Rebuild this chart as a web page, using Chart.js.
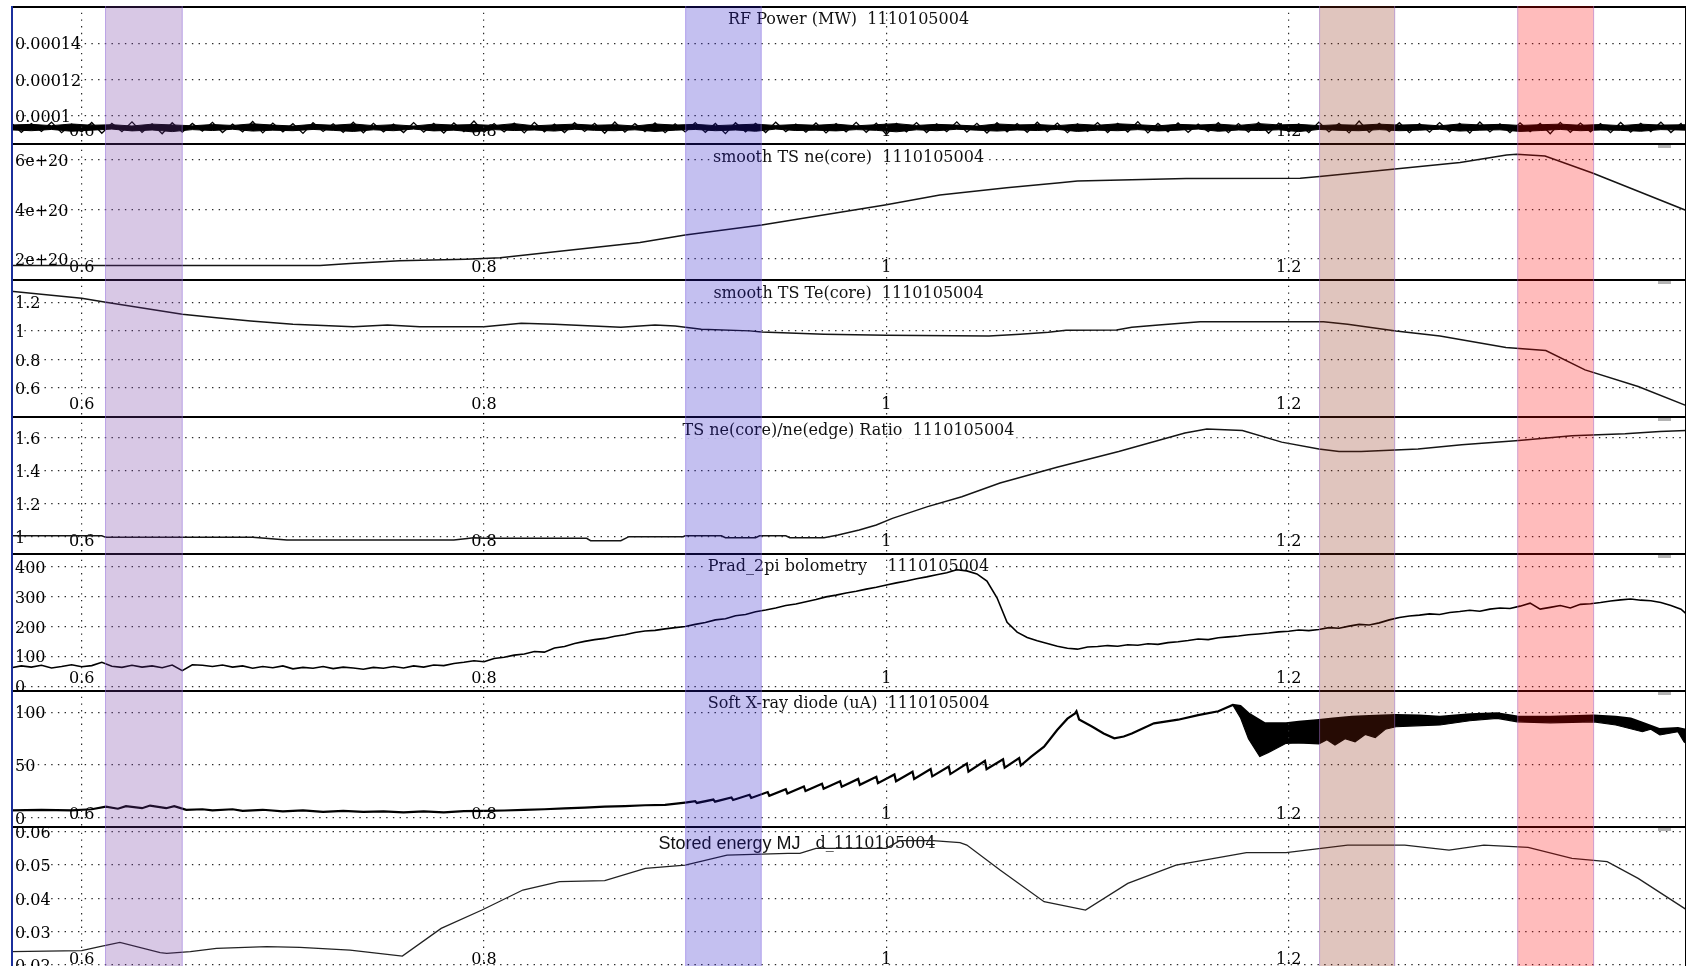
<!DOCTYPE html>
<html>
<head>
<meta charset="utf-8">
<title>Shot 1110105004</title>
<script src="https://cdn.jsdelivr.net/npm/chart.js@4.4.0/dist/chart.umd.min.js"></script>
<style>
  html, body { margin: 0; padding: 0; background: #fff; overflow: hidden; width: 1690px; height: 966px; }
  #stack { position: relative; width: 1690px; height: 966px; }
  #stack canvas { position: absolute; left: 11px; }
</style>
</head>
<body>
<div id="stack">
  <canvas id="rf" width="1675" height="137" style="top:6px"></canvas>
  <canvas id="ne" width="1675" height="136" style="top:143px"></canvas>
  <canvas id="te" width="1675" height="137" style="top:279px"></canvas>
  <canvas id="ratio" width="1675" height="137" style="top:416px"></canvas>
  <canvas id="prad" width="1675" height="137" style="top:553px"></canvas>
  <canvas id="sxr" width="1675" height="136" style="top:690px"></canvas>
  <canvas id="we" width="1675" height="145" style="top:826px"></canvas>
</div>
<script>
// time axis (s) and its labels
const xTicks = [0.6, 0.8, 1, 1.2];
const xTickLabels = ['0.6', '0.8', '1', '1.2'];

// highlighted time windows
const bandFrom = [0.6116, 0.9, 1.2151, 1.3136];
const bandTo = [0.6502, 0.938, 1.2529, 1.3518];

// shared fine time base (s)
const tFine = [0.565, 0.570, 0.575, 0.580, 0.585, 0.590, 0.595, 0.600, 0.605, 0.610,
  0.615, 0.620, 0.625, 0.630, 0.635, 0.640, 0.645, 0.650, 0.655, 0.660,
  0.665, 0.670, 0.675, 0.680, 0.685, 0.690, 0.695, 0.700, 0.705, 0.710,
  0.715, 0.720, 0.725, 0.730, 0.735, 0.740, 0.745, 0.750, 0.755, 0.760,
  0.765, 0.770, 0.775, 0.780, 0.785, 0.790, 0.795, 0.800, 0.805, 0.810,
  0.815, 0.820, 0.825, 0.830, 0.835, 0.840, 0.845, 0.850, 0.855, 0.860,
  0.865, 0.870, 0.875, 0.880, 0.885, 0.890, 0.895, 0.900, 0.905, 0.910,
  0.915, 0.920, 0.925, 0.930, 0.935, 0.940, 0.945, 0.950, 0.955, 0.960,
  0.965, 0.970, 0.975, 0.980, 0.985, 0.990, 0.995, 1.000, 1.005, 1.010,
  1.015, 1.020, 1.025, 1.030, 1.035, 1.040, 1.045, 1.050, 1.055, 1.060,
  1.065, 1.070, 1.075, 1.080, 1.085, 1.090, 1.095, 1.100, 1.105, 1.110,
  1.115, 1.120, 1.125, 1.130, 1.135, 1.140, 1.145, 1.150, 1.155, 1.160,
  1.165, 1.170, 1.175, 1.180, 1.185, 1.190, 1.195, 1.200, 1.205, 1.210,
  1.215, 1.220, 1.225, 1.230, 1.235, 1.240, 1.245, 1.250, 1.255, 1.260,
  1.265, 1.270, 1.275, 1.280, 1.285, 1.290, 1.295, 1.300, 1.305, 1.310,
  1.315, 1.320, 1.325, 1.330, 1.335, 1.340, 1.345, 1.350, 1.355, 1.360,
  1.365, 1.370, 1.375, 1.380, 1.385, 1.390, 1.395, 1.398];

// RF power (MW): solid core edges and the noisy trace over it
const rfT = [0.564, 0.575, 0.585, 0.595, 0.605, 0.615, 0.625, 0.635, 0.645, 0.655,
  0.665, 0.675, 0.685, 0.695, 0.705, 0.715, 0.725, 0.735, 0.745, 0.755,
  0.765, 0.775, 0.785, 0.795, 0.805, 0.815, 0.825, 0.835, 0.845, 0.855,
  0.865, 0.875, 0.885, 0.895, 0.905, 0.915, 0.925, 0.935, 0.945, 0.955,
  0.965, 0.975, 0.985, 0.995, 1.005, 1.015, 1.025, 1.035, 1.045, 1.055,
  1.065, 1.075, 1.085, 1.095, 1.105, 1.115, 1.125, 1.135, 1.145, 1.155,
  1.165, 1.175, 1.185, 1.195, 1.205, 1.215, 1.225, 1.235, 1.245, 1.255,
  1.265, 1.275, 1.285, 1.295, 1.305, 1.315, 1.325, 1.335, 1.345, 1.355,
  1.365, 1.375, 1.385, 1.398];
const rfHigh = [9.50e-5, 9.54e-5, 9.47e-5, 9.56e-5, 9.49e-5, 9.52e-5, 9.45e-5, 9.55e-5, 9.51e-5, 9.46e-5,
  9.53e-5, 9.48e-5, 9.57e-5, 9.50e-5, 9.45e-5, 9.54e-5, 9.49e-5, 9.56e-5, 9.47e-5, 9.52e-5,
  9.45e-5, 9.55e-5, 9.50e-5, 9.53e-5, 9.48e-5, 9.58e-5, 9.46e-5, 9.51e-5, 9.55e-5, 9.49e-5,
  9.52e-5, 9.45e-5, 9.56e-5, 9.50e-5, 9.54e-5, 9.47e-5, 9.51e-5, 9.55e-5, 9.48e-5, 9.53e-5,
  9.49e-5, 9.55e-5, 9.46e-5, 9.52e-5, 9.58e-5, 9.48e-5, 9.54e-5, 9.50e-5, 9.45e-5, 9.56e-5,
  9.51e-5, 9.53e-5, 9.47e-5, 9.55e-5, 9.49e-5, 9.57e-5, 9.52e-5, 9.46e-5, 9.54e-5, 9.50e-5,
  9.55e-5, 9.48e-5, 9.58e-5, 9.51e-5, 9.54e-5, 9.47e-5, 9.52e-5, 9.49e-5, 9.55e-5, 9.50e-5,
  9.53e-5, 9.46e-5, 9.56e-5, 9.51e-5, 9.54e-5, 9.48e-5, 9.52e-5, 9.55e-5, 9.49e-5, 9.53e-5,
  9.47e-5, 9.55e-5, 9.50e-5, 9.52e-5];
const rfLow = [9.24e-5, 9.19e-5, 9.26e-5, 9.16e-5, 9.22e-5, 9.28e-5, 9.18e-5, 9.23e-5, 9.14e-5, 9.25e-5,
  9.20e-5, 9.27e-5, 9.17e-5, 9.22e-5, 9.19e-5, 9.26e-5, 9.21e-5, 9.15e-5, 9.24e-5, 9.19e-5,
  9.28e-5, 9.18e-5, 9.22e-5, 9.12e-5, 9.25e-5, 9.20e-5, 9.23e-5, 9.17e-5, 9.27e-5, 9.21e-5,
  9.19e-5, 9.24e-5, 9.15e-5, 9.22e-5, 9.26e-5, 9.19e-5, 9.23e-5, 9.16e-5, 9.28e-5, 9.20e-5,
  9.22e-5, 9.18e-5, 9.25e-5, 9.21e-5, 9.13e-5, 9.24e-5, 9.19e-5, 9.27e-5, 9.22e-5, 9.17e-5,
  9.23e-5, 9.20e-5, 9.26e-5, 9.15e-5, 9.22e-5, 9.19e-5, 9.25e-5, 9.18e-5, 9.22e-5, 9.28e-5,
  9.16e-5, 9.23e-5, 9.20e-5, 9.24e-5, 9.14e-5, 9.26e-5, 9.21e-5, 9.19e-5, 9.25e-5, 9.19e-5,
  9.22e-5, 9.27e-5, 9.17e-5, 9.22e-5, 9.24e-5, 9.15e-5, 9.20e-5, 9.26e-5, 9.19e-5, 9.23e-5,
  9.21e-5, 9.16e-5, 9.25e-5, 9.22e-5];
const rfNoise = [9.62e-5, 9.10e-5, 9.58e-5, 9.15e-5, 9.66e-5, 9.08e-5, 9.55e-5, 9.12e-5, 9.64e-5, 9.05e-5,
  9.60e-5, 9.14e-5, 9.68e-5, 9.10e-5, 9.57e-5, 9.02e-5, 9.63e-5, 9.11e-5, 9.59e-5, 9.16e-5,
  9.65e-5, 9.09e-5, 9.56e-5, 9.13e-5, 9.70e-5, 9.07e-5, 9.61e-5, 9.12e-5, 9.58e-5, 9.04e-5,
  9.63e-5, 9.15e-5, 9.57e-5, 9.10e-5, 9.66e-5, 9.08e-5, 9.60e-5, 9.13e-5, 9.55e-5, 9.09e-5,
  9.64e-5, 9.11e-5, 9.59e-5, 9.06e-5, 9.62e-5, 9.14e-5, 9.72e-5, 9.10e-5, 9.58e-5, 9.12e-5,
  9.61e-5, 9.07e-5, 9.65e-5, 9.13e-5, 9.56e-5, 9.09e-5, 9.63e-5, 9.15e-5, 9.60e-5, 9.05e-5,
  9.67e-5, 9.11e-5, 9.58e-5, 9.14e-5, 9.62e-5, 9.08e-5, 9.57e-5, 9.12e-5, 9.64e-5, 9.10e-5,
  9.59e-5, 9.03e-5, 9.63e-5, 9.13e-5, 9.60e-5, 9.09e-5, 9.66e-5, 9.14e-5, 9.56e-5, 9.11e-5,
  9.62e-5, 9.07e-5, 9.58e-5, 9.12e-5, 9.65e-5, 9.10e-5, 9.61e-5, 8.98e-5, 9.59e-5, 9.13e-5,
  9.64e-5, 9.09e-5, 9.57e-5, 9.14e-5, 9.68e-5, 9.11e-5, 9.60e-5, 9.06e-5, 9.63e-5, 9.12e-5,
  9.58e-5, 9.10e-5, 9.66e-5, 9.13e-5, 9.61e-5, 9.08e-5, 9.57e-5, 9.15e-5, 9.64e-5, 9.09e-5,
  9.60e-5, 9.12e-5, 9.69e-5, 9.07e-5, 9.59e-5, 9.13e-5, 9.62e-5, 9.10e-5, 9.56e-5, 9.14e-5,
  9.63e-5, 9.08e-5, 9.58e-5, 9.11e-5, 9.65e-5, 9.05e-5, 9.61e-5, 9.13e-5, 9.57e-5, 9.09e-5,
  9.66e-5, 9.12e-5, 9.60e-5, 9.07e-5, 9.72e-5, 9.10e-5, 9.59e-5, 9.14e-5, 9.63e-5, 9.08e-5,
  9.58e-5, 9.11e-5, 9.64e-5, 9.13e-5, 9.60e-5, 9.06e-5, 9.67e-5, 9.12e-5, 9.57e-5, 9.09e-5,
  9.62e-5, 9.14e-5, 9.59e-5, 9.02e-5, 9.65e-5, 9.10e-5, 9.61e-5, 9.13e-5, 9.58e-5, 9.08e-5,
  9.64e-5, 9.11e-5, 9.60e-5, 9.14e-5, 9.66e-5, 9.09e-5, 9.59e-5, 9.12e-5];
const rfTicks = [0.0001, 0.00012, 0.00014];
const rfTickLabels = ['0.0001', '0.00012', '0.00014'];

// smooth TS ne(core), m^-3
const neT = [0.564, 0.69, 0.7185, 0.7334, 0.758, 0.791, 0.808, 0.8775, 0.9, 0.938, 0.9993, 1.0266,
  1.0598, 1.0863, 1.095, 1.149, 1.2057, 1.2154, 1.2528, 1.2852, 1.3083, 1.3133, 1.3274, 1.3513, 1.398];
const neV = [1.72e20, 1.72e20, 1.72e20, 1.81e20, 1.92e20, 1.98e20, 2.04e20, 2.66e20, 2.96e20, 3.37e20, 4.18e20, 4.58e20,
  4.88e20, 5.08e20, 5.15e20, 5.25e20, 5.26e20, 5.33e20, 5.64e20, 5.9e20, 6.2e20, 6.23e20, 6.16e20, 5.46e20, 3.94e20];
const neTicks = [2e20, 4e20, 6e20];
const neTickLabels = ['2e+20', '4e+20', '6e+20'];

// smooth TS Te(core), keV
const teT = [0.564, 0.6, 0.612, 0.65, 0.667, 0.684, 0.705, 0.735, 0.752, 0.768, 0.8, 0.8185, 0.835,
  0.868, 0.885, 0.895, 0.908, 0.932, 0.938, 0.969, 1.0, 1.051, 1.0665, 1.0805, 1.0893, 1.1144,
  1.122, 1.1353, 1.156, 1.2173, 1.2293, 1.2533, 1.2752, 1.308, 1.3278, 1.3473, 1.3737, 1.398];
const teV = [1.279, 1.228, 1.2, 1.116, 1.092, 1.069, 1.046, 1.029, 1.041, 1.029, 1.029, 1.053, 1.046,
  1.025, 1.041, 1.034, 1.011, 1.0, 0.992, 0.976, 0.969, 0.964, 0.976, 0.99, 1.004, 1.006,
  1.025, 1.041, 1.064, 1.064, 1.046, 0.999, 0.964, 0.883, 0.862, 0.727, 0.61, 0.475];
const teTicks = [0.6, 0.8, 1, 1.2];
const teTickLabels = ['0.6', '0.8', '1', '1.2'];

// TS ne(core)/ne(edge)
const ratioT = [0.564, 0.61, 0.612, 0.685, 0.702, 0.785, 0.795, 0.8, 0.851, 0.853, 0.868, 0.872,
  0.899, 0.9, 0.918, 0.92, 0.935, 0.937, 0.95, 0.952, 0.969, 0.976, 0.9865, 0.995, 1.003, 1.0205,
  1.0375, 1.0565, 1.0848, 1.1155, 1.1484, 1.1593, 1.177, 1.1965, 1.215, 1.225, 1.236, 1.2643,
  1.286, 1.3144, 1.3408, 1.3672, 1.3845, 1.398];
const ratioV = [1.006, 1.006, 0.996, 0.996, 0.98, 0.98, 0.994, 0.99, 0.99, 0.976, 0.976, 1.0,
  1.0, 1.006, 1.006, 0.994, 0.994, 1.006, 1.006, 0.994, 0.994, 1.01, 1.041, 1.071, 1.111, 1.182,
  1.242, 1.325, 1.42, 1.515, 1.627, 1.651, 1.642, 1.572, 1.531, 1.515, 1.515, 1.53,
  1.556, 1.582, 1.61, 1.622, 1.636, 1.642];
const ratioTicks = [1, 1.2, 1.4, 1.6];
const ratioTickLabels = ['1', '1.2', '1.4', '1.6'];

// Prad 2pi bolometry, kW (on tFine)
const pradV = [62, 68, 64, 70, 61, 66, 72, 65, 69, 80,
  67, 63, 70, 64, 68, 62, 71, 52, 72, 70,
  66, 71, 64, 68, 60, 66, 62, 68, 58, 63,
  60, 66, 59, 64, 61, 57, 63, 60, 66, 61,
  68, 64, 71, 69, 76, 80, 85, 82, 93, 97,
  104, 108, 116, 114, 128, 133, 143, 150, 156, 160,
  167, 172, 180, 185, 187, 192, 196, 200, 207, 213,
  222, 226, 236, 240, 249, 255, 262, 270, 275, 283,
  290, 299, 305, 312, 318, 325, 331, 339, 346, 352,
  360, 366, 373, 380, 390, 386, 376, 352, 296, 214,
  181, 163, 152, 143, 134, 127, 124, 131, 133, 136,
  134, 139, 137, 142, 140, 146, 149, 153, 158, 156,
  162, 165, 168, 172, 175, 178, 182, 184, 188, 186,
  190, 196, 194, 201, 207, 205, 212, 222, 230, 235,
  238, 242, 240, 247, 250, 254, 251, 258, 262, 260,
  268, 278, 258, 264, 270, 262, 274, 276, 280, 285,
  289, 292, 288, 286, 280, 270, 258, 240];
const pradTicks = [0, 100, 200, 300, 400];
const pradTickLabels = ['0', '100', '200', '300', '400'];

// Soft X-ray diode (uA): main trace, then lower edge of the fuzzy part
const sxrT = [0.564, 0.58, 0.595, 0.605, 0.612, 0.618, 0.622, 0.63, 0.634, 0.642, 0.646, 0.652,
  0.66, 0.665, 0.675, 0.68, 0.69, 0.70, 0.71, 0.72, 0.73, 0.74, 0.75, 0.76, 0.77, 0.78, 0.79,
  0.80, 0.81, 0.82, 0.83, 0.84, 0.85, 0.86, 0.87, 0.88, 0.89, 0.90,
  0.905, 0.9058, 0.914, 0.9148, 0.923, 0.9238, 0.932, 0.9328, 0.941, 0.9418, 0.950, 0.9508,
  0.959, 0.9598, 0.968, 0.9688, 0.977, 0.9778, 0.986, 0.9868, 0.995, 0.9958, 1.004, 1.0048,
  1.013, 1.0138, 1.022, 1.0228, 1.031, 1.0318, 1.040, 1.0408, 1.049, 1.0498, 1.058, 1.0588,
  1.066, 1.0668, 1.072, 1.0784, 1.0849, 1.09, 1.0938, 1.0945, 1.0958, 1.1024, 1.108, 1.1133,
  1.118, 1.122, 1.133, 1.145, 1.155, 1.165, 1.1722, 1.176, 1.18, 1.188, 1.1987, 1.205, 1.215,
  1.222, 1.2314, 1.24, 1.2533, 1.265, 1.2752, 1.29, 1.3036, 1.3136, 1.33, 1.3517, 1.3626, 1.37,
  1.3758, 1.3845, 1.3935, 1.398];
const sxrV = [7, 7.5, 7, 8, 10.5, 8.5, 11, 9, 11.5, 9, 11, 7.5,
  8, 7, 8, 6.5, 7.5, 6, 7, 5.5, 6.5, 5.5, 6, 5, 6, 5, 6.2,
  6.4, 6.8, 7.5, 8, 8.8, 9.5, 10.5, 11, 11.8, 12.1, 14.3,
  15.6, 14.0, 17.2, 15.2, 19.2, 16.8, 21.7, 18.7, 24.3, 20.7, 27, 23,
  29.7, 25.3, 32.2, 27.4, 34.6, 29.4, 36.8, 31.2, 38.8, 32.8, 41, 34.6,
  43.6, 36.8, 46.2, 39.2, 48.6, 41.4, 51.3, 43.7, 54, 46, 55.5, 47.5,
  56.5, 49.5, 58, 67.4, 83.2, 94, 99, 101, 93.3, 86.3, 80, 75.3,
  77, 80, 89.6, 93, 97.4, 101, 107, 106, 99, 89.6, 89.6, 91, 92.7,
  94, 95.8, 96.5, 97.4, 97, 95.8, 98, 99, 96, 95.8, 97, 95.8, 94,
  90, 84, 85, 83];
const sxrLowT = [1.1722, 1.176, 1.18, 1.1856, 1.19, 1.1987, 1.205, 1.215, 1.219, 1.223, 1.228,
  1.233, 1.238, 1.243, 1.248, 1.2533, 1.26, 1.2752, 1.29, 1.3036, 1.3136, 1.33, 1.3517, 1.3626,
  1.3758, 1.38, 1.3845, 1.3935, 1.3965, 1.398];
const sxrLowV = [107, 95, 75, 58, 62, 70.6, 71, 70, 74, 69, 75,
  72, 79, 76, 84, 86.3, 87, 88, 92, 94.3, 91, 90, 91, 88,
  81.6, 84, 78.5, 81.6, 72, 70];
const sxrTicks = [0, 50, 100];
const sxrTickLabels = ['0', '50', '100'];

// Stored energy, MJ
const weT = [0.564, 0.6, 0.609, 0.619, 0.639, 0.6423, 0.654, 0.667, 0.692, 0.7085, 0.7334, 0.7594,
  0.7787, 0.799, 0.8193, 0.8375, 0.86, 0.8802, 0.9, 0.9208, 0.951, 0.957, 0.965, 1.0, 1.0067,
  1.0231, 1.0366, 1.04, 1.0565, 1.0784, 1.099, 1.12, 1.144, 1.179, 1.1987, 1.2293, 1.2577,
  1.2797, 1.297, 1.319, 1.3408, 1.3583, 1.3737, 1.398];
const weV = [0.024, 0.0243, 0.0255, 0.0268, 0.0237, 0.0235, 0.024, 0.025, 0.0255, 0.0253, 0.0245, 0.0227,
  0.031, 0.0365, 0.0425, 0.045, 0.0453, 0.049, 0.05, 0.053, 0.0535, 0.0535, 0.055, 0.055, 0.0573,
  0.0573, 0.0567, 0.056, 0.0485, 0.039, 0.0365, 0.0445, 0.05, 0.0537, 0.0537, 0.056, 0.056,
  0.0545, 0.056, 0.0553, 0.052, 0.051, 0.046, 0.0365];
const weTicks = [0.02, 0.03, 0.04, 0.05, 0.06];
const weTickLabels = ['0.02', '0.03', '0.04', '0.05', '0.06'];

// look
const X_MIN = 0.56486, X_MAX = 1.39749;
const serif = '"DejaVu Serif", "Liberation Serif", serif';
const tickFont = { family: serif, size: 16 };
const dotColor = '#2a2a2a';
const dotDash = [1.4, 5.3];
const bandFill = ['rgba(110,50,160,0.27)', 'rgba(37,22,200,0.27)', 'rgba(141,41,15,0.27)', 'rgba(255,0,0,0.263)'];
const bandEdge = 'rgba(150,120,230,0.45)';

const pts = (xs, ys) => xs.map((x, i) => ({ x: x, y: ys[i] }));

// panel border, separator line and the little scroll tab
function framePlugin(tab) {
  return {
    id: 'frame',
    afterDraw(chart) {
      const { ctx, width, height } = chart;
      ctx.save();
      ctx.fillStyle = '#000';
      ctx.fillRect(0, 0, width, 2);
      ctx.fillRect(width - 1, 0, 1, height);
      ctx.fillStyle = '#1b2f9c';
      ctx.fillRect(0, 0, 2, height);
      if (tab) {
        ctx.fillStyle = '#b4b4b4';
        ctx.fillRect(width - 28, 2, 13, 3);
      }
      ctx.restore();
    }
  };
}

// signal name written in the top of each panel
function titlePlugin(title) {
  return {
    id: 'panelTitle',
    beforeDatasetsDraw(chart) {
      const { ctx, chartArea } = chart;
      ctx.save();
      ctx.textBaseline = 'middle';
      ctx.textAlign = 'left';
      const widths = title.parts.map(p => { ctx.font = p.font; return ctx.measureText(p.text).width; });
      const gap = title.gap || 0;
      const total = widths.reduce((s, w) => s + w, 0) + gap * (widths.length - 1);
      const cx = (chartArea.left + chartArea.right) / 2;
      let left = cx + (title.dx !== undefined ? title.dx : -total / 2);
      title.parts.forEach((p, i) => {
        ctx.fillStyle = '#fff';
        ctx.fillRect(left - 2, title.y - 8, widths[i] + 4, 16);
        ctx.font = p.font;
        ctx.fillStyle = '#111';
        ctx.fillText(p.text, left, title.y);
        left += widths[i] + gap;
      });
      ctx.restore();
    }
  };
}

const bandPlugin = {
  id: 'bands',
  afterDraw(chart) {
    const { ctx, height } = chart;
    const x = chart.scales.x;
    ctx.save();
    bandFrom.forEach((a, i) => {
      const x1 = x.getPixelForValue(a);
      const x2 = x.getPixelForValue(bandTo[i]);
      ctx.fillStyle = bandFill[i];
      ctx.fillRect(x1, 0, x2 - x1, height);
      ctx.fillStyle = bandEdge;
      ctx.fillRect(x1, 0, 1, height);
      ctx.fillRect(x2 - 1, 0, 1, height);
    });
    ctx.restore();
  }
};

function panel(id, cfg) {
  return new Chart(document.getElementById(id), {
    type: 'line',
    data: { datasets: cfg.datasets },
    options: {
      responsive: false,
      animation: false,
      events: [],
      layout: { padding: 0 },
      elements: {
        point: { radius: 0 },
        line: { tension: 0, borderColor: '#151515', borderWidth: 1.5, fill: false }
      },
      plugins: { legend: { display: false }, tooltip: { enabled: false } },
      scales: {
        x: {
          type: 'linear',
          min: X_MIN,
          max: X_MAX,
          afterBuildTicks: s => { s.ticks = xTicks.map(v => ({ value: v })); },
          afterFit: s => { s.height = 0; s.paddingLeft = 0; s.paddingRight = 0; },
          grid: { color: dotColor, lineWidth: 1.2, drawTicks: false, z: 1 },
          border: { display: false, dash: dotDash },
          ticks: {
            mirror: true, padding: 2, autoSkip: false, maxRotation: 0,
            font: tickFont, color: '#000',
            callback: (v, i) => xTickLabels[i]
          }
        },
        y: {
          type: 'linear',
          min: cfg.min,
          max: cfg.max,
          afterBuildTicks: s => { s.ticks = cfg.ticks.map(v => ({ value: v })); },
          afterFit: s => { s.width = 0; s.paddingTop = 0; s.paddingBottom = 0; },
          grid: { color: dotColor, lineWidth: 1.2, drawTicks: false },
          border: { display: false, dash: dotDash },
          ticks: {
            mirror: true, padding: 4, labelOffset: 2, autoSkip: false,
            font: tickFont, color: '#000',
            callback: (v, i) => cfg.labels[i]
          }
        }
      }
    },
    plugins: [framePlugin(cfg.tab), titlePlugin(cfg.title), bandPlugin]
  });
}

const titleFont = '16px ' + serif;
const single = (text, y) => ({ y: y, parts: [{ text: text, font: titleFont }] });

panel('rf', {
  min: 8.514e-5, max: 1.6052e-4, ticks: rfTicks, labels: rfTickLabels, tab: false,
  title: single('RF Power (MW)  1110105004', 14),
  datasets: [
    { data: pts(rfT, rfHigh), borderColor: '#000', borderWidth: 1 },
    { data: pts(rfT, rfLow), borderColor: '#000', borderWidth: 1, backgroundColor: '#000', fill: '-1' },
    { data: pts(tFine, rfNoise), borderColor: '#000', borderWidth: 1.3 }
  ]
});

panel('ne', {
  min: 1.1773e20, max: 6.689e20, ticks: neTicks, labels: neTickLabels, tab: true,
  title: single('smooth TS ne(core)  1110105004', 14.5),
  datasets: [{ data: pts(neT, neV) }]
});

panel('te', {
  min: 0.404, max: 1.3632, ticks: teTicks, labels: teTickLabels, tab: true,
  title: single('smooth TS Te(core)  1110105004', 15),
  datasets: [{ data: pts(teT, teV) }]
});

panel('ratio', {
  min: 0.9014, max: 1.730, ticks: ratioTicks, labels: ratioTickLabels, tab: true,
  title: single('TS ne(core)/ne(edge) Ratio  1110105004', 14.5),
  datasets: [{ data: pts(ratioT, ratioV) }]
});

panel('prad', {
  min: -12.7, max: 445.9, ticks: pradTicks, labels: pradTickLabels, tab: true,
  title: single('Prad_2pi bolometry    1110105004', 14),
  datasets: [{ data: pts(tFine, pradV), borderColor: '#000', borderWidth: 1.6 }]
});

panel('sxr', {
  min: -7.9, max: 121.2, ticks: sxrTicks, labels: sxrTickLabels, tab: true,
  title: single('Soft X-ray diode (uA)  1110105004', 14),
  datasets: [
    { data: pts(sxrT, sxrV), borderColor: '#000', borderWidth: 2.2 },
    { data: pts(sxrLowT, sxrLowV), borderColor: '#000', borderWidth: 1.2, backgroundColor: '#000', fill: '-1' }
  ]
});

panel('we', {
  min: 0.01821, max: 0.06171, ticks: weTicks, labels: weTickLabels, tab: true,
  title: {
    y: 18, dx: -190, gap: 15,
    parts: [
      { text: 'Stored energy MJ', font: '18px "Liberation Sans", Arial, sans-serif' },
      { text: 'd_1110105004', font: titleFont }
    ]
  },
  datasets: [{ data: pts(weT, weV), borderColor: '#222', borderWidth: 1.3 }]
});
</script>
</body>
</html>
